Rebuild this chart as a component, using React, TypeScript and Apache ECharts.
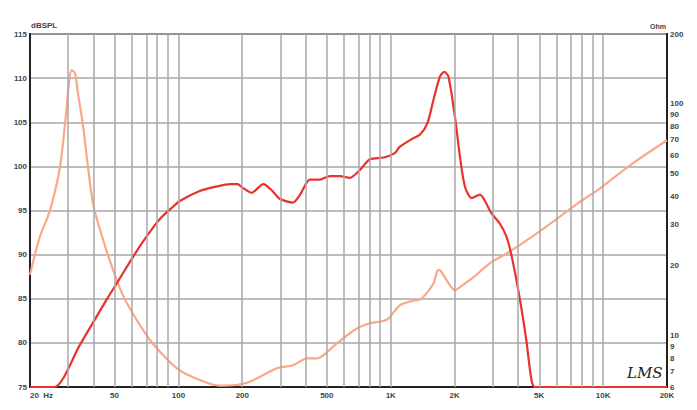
import React, { useEffect, useRef } from "react";
import * as echarts from "echarts";

// Frequency response (dB SPL)
const splFreq = [20, 26, 34.4, 45.9, 51.4, 59.2, 66, 74, 83, 93, 102, 126, 150, 175, 190, 200, 221, 251, 275, 301, 346, 374, 416, 464, 516, 576, 642, 716, 798, 926, 1044, 1102, 1258, 1375, 1488, 1588, 1706, 1788, 1868, 2006, 2118, 2236, 2402, 2628, 2976, 3266, 3512, 3712, 4040, 4350, 4600, 4774, 20000];
const splDb = [75, 75, 79.8, 84.9, 86.8, 89.2, 91.0, 92.7, 94.2, 95.3, 96.1, 97.2, 97.7, 98.0, 98.0, 97.6, 97.0, 98.0, 97.3, 96.3, 95.9, 96.8, 98.5, 98.5, 98.9, 98.9, 98.7, 99.6, 100.8, 101.0, 101.5, 102.2, 103.1, 103.6, 104.9, 107.5, 110.2, 110.7, 110.2, 105.6, 101.1, 97.7, 96.4, 96.8, 94.7, 93.5, 92.0, 89.8, 85.2, 80.3, 75.8, 75, 75];

// Impedance (Ohm)
const impFreq = [20, 22.2, 24.8, 27.7, 29.7, 30.6, 31.4, 32.6, 33.5, 35.6, 39.6, 45.2, 51.2, 56.2, 73.5, 98.3, 126, 156, 187, 217, 290, 347, 404, 451, 557, 689, 798, 958, 1102, 1258, 1375, 1490, 1600, 1668, 1720, 2006, 2200, 2464, 2924, 3600, 5050, 7800, 9680, 13440, 20000];
const impOhm = [18.3, 26.5, 34.5, 53.5, 94, 126, 140, 135, 114, 79.6, 37.2, 24.2, 17.4, 14.2, 9.57, 7.22, 6.43, 6.08, 6.12, 6.32, 7.22, 7.45, 7.98, 7.98, 9.26, 10.7, 11.3, 11.7, 13.5, 14.1, 14.3, 15.4, 17.0, 19.2, 19.0, 15.7, 16.6, 17.9, 20.5, 22.9, 28.2, 37.8, 43.2, 54.4, 69.6];

const xTickLabels = [20, 50, 100, 200, 500, 1000, 2000, 5000, 10000, 20000];
const xGridFreqs = [30, 40, 50, 60, 70, 80, 90, 100, 200, 300, 400, 500, 600, 700, 800, 900, 1000, 2000, 3000, 4000, 5000, 6000, 7000, 8000, 9000, 10000];
const ohmTicks = [6, 7, 8, 9, 10, 20, 30, 40, 50, 60, 70, 80, 90, 100, 200];

const lg = Math.log10;

function fmtFreq(v: number): string {
  const f = Math.round(Math.pow(10, v));
  if (f === 20) return "20  Hz";
  if (f >= 1000) return f / 1000 + "K";
  return String(f);
}

export default function App() {
  const ref = useRef<HTMLDivElement>(null);
  useEffect(() => {
    if (!ref.current) return;
    const chart = echarts.init(ref.current, null, { renderer: "svg" });
    const font = "Liberation Sans";
    const gridColor = "#a9a9a9";
    chart.setOption({
      animation: false,
      backgroundColor: "#ffffff",
      grid: { left: 30, right: 30, top: 34, bottom: 23, show: true, borderColor: "#555", borderWidth: 2, backgroundColor: "transparent" },
      xAxis: {
        type: "value",
        min: lg(20),
        max: lg(20000),
        axisLine: { show: true, lineStyle: { color: "#222", width: 2 } },
        axisTick: { show: false },
        splitLine: { show: false },
        axisLabel: {
          customValues: xTickLabels.map(lg),
          formatter: fmtFreq,
          fontFamily: font,
          fontSize: 8,
          fontWeight: "bold",
          color: "#444",
          margin: 4,
          alignMinLabel: "left",
        },
      },
      yAxis: [
        {
          type: "value",
          min: 75,
          max: 115,
          interval: 5,
          axisLine: { show: true, lineStyle: { color: "#222", width: 2 } },
          axisTick: { show: false },
          splitLine: { show: true, lineStyle: { color: gridColor, width: 1.5 } },
          axisLabel: { fontFamily: font, fontSize: 8, fontWeight: "bold", color: "#444", margin: 3 },
        },
        {
          type: "value",
          position: "right",
          min: lg(6),
          max: lg(200),
          axisLine: { show: true, lineStyle: { color: "#222", width: 2 } },
          axisTick: { show: false },
          splitLine: { show: false },
          axisLabel: {
            customValues: ohmTicks.map(lg),
            formatter: (v: number) => String(Math.round(Math.pow(10, v))),
            fontFamily: font,
            fontSize: 8,
            fontWeight: "bold",
            color: "#444",
            margin: 3,
          },
        },
      ],
      series: [
        {
          type: "line",
          data: [],
          z: 1,
          silent: true,
          markLine: {
            silent: true,
            symbol: ["none", "none"],
            label: { show: false },
            lineStyle: { color: gridColor, width: 1.5, type: "solid" },
            data: xGridFreqs.map((f) => ({ xAxis: lg(f) })),
          },
        },
        {
          type: "line",
          yAxisIndex: 1,
          z: 3,
          symbol: "none",
          smooth: 0.25,
          lineStyle: { color: "#f9a88a", width: 2.2 },
          data: impFreq.map((f, i) => [lg(f), lg(impOhm[i])]),
        },
        {
          type: "line",
          yAxisIndex: 0,
          z: 4,
          symbol: "none",
          smooth: 0.25,
          lineStyle: { color: "#e8322b", width: 2.2 },
          data: splFreq.map((f, i) => [lg(f), splDb[i]]),
        },
      ],
      graphic: [
        { type: "text", left: 31, top: 21, style: { text: "dBSPL", fontFamily: font, fontSize: 8, fontWeight: "bold", fill: "#444" } },
        { type: "text", left: 650, top: 23, style: { text: "Ohm", fontFamily: font, fontSize: 7, fontWeight: "bold", fill: "#444" } },
        { type: "text", left: 627, top: 365, style: { text: "LMS", fontFamily: "DejaVu Serif", fontStyle: "italic", fontSize: 15, fill: "#222" } },
      ],
    });
    return () => chart.dispose();
  }, []);
  return <div ref={ref} style={{ position: "fixed", left: 0, top: 0, width: 697, height: 410 }} />;
}
